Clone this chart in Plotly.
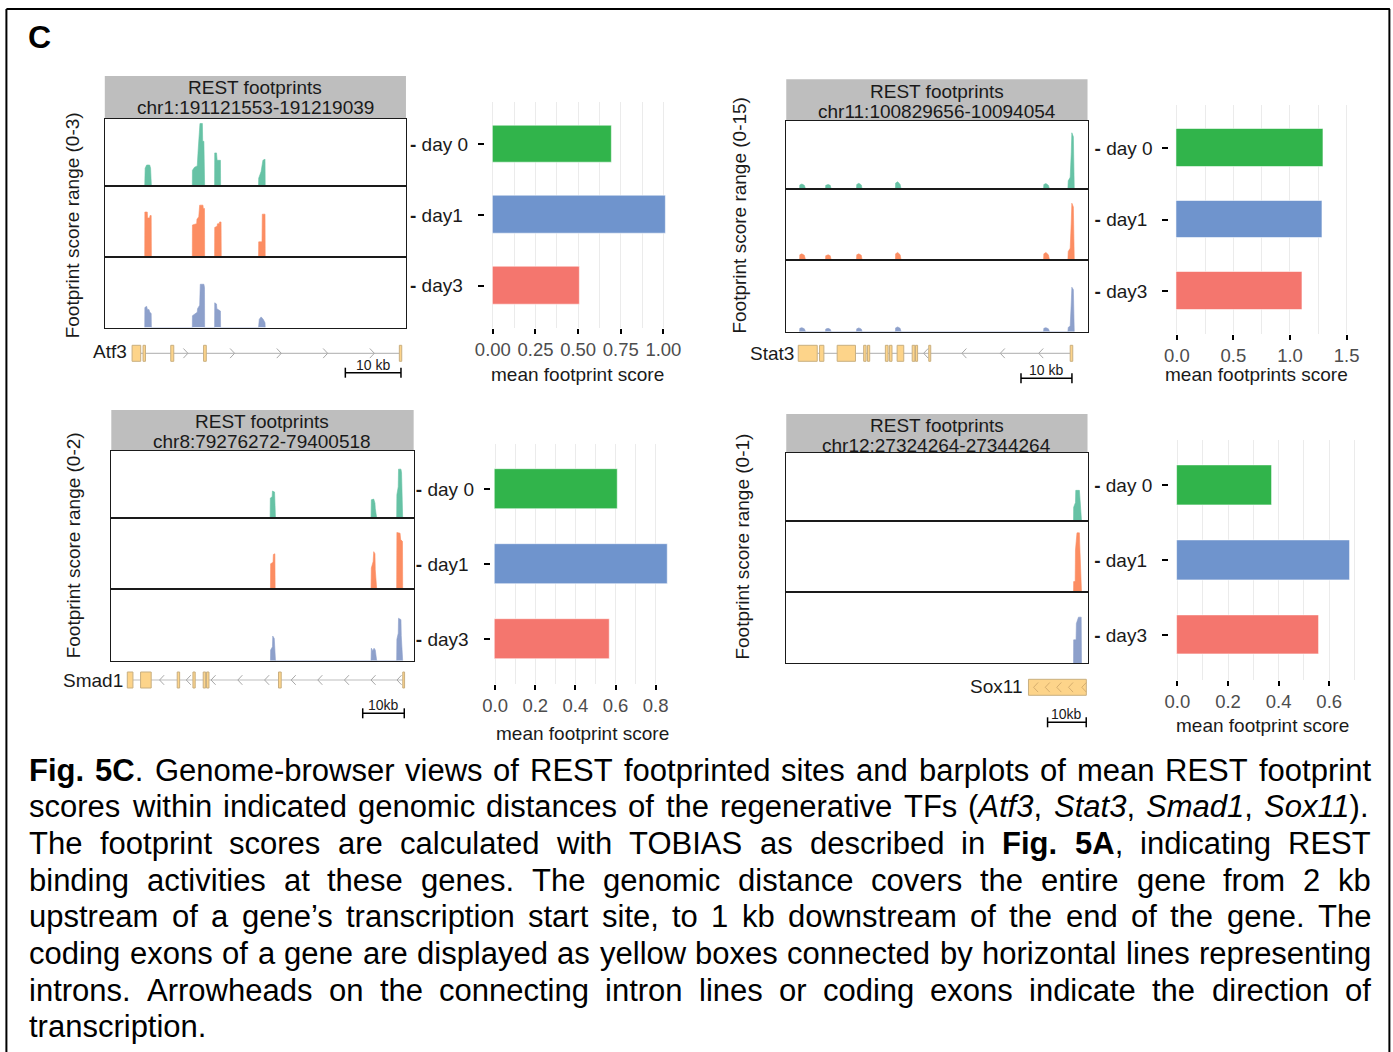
import re
import plotly.graph_objects as go

W, H = 1393, 1052
FONT = "Liberation Sans, Arial, Helvetica, sans-serif"

# ======================= DATA =======================
days = ["day 0", "day1", "day3"]
track_colors = ["#66C2A5", "#FC8D62", "#8DA0CB"]
bar_colors = ["#31B44B", "#6F94CD", "#F4766E"]

genes = ["Atf3", "Stat3", "Smad1", "Sox11"]
regions = ["chr1:191121553-191219039", "chr11:100829656-10094054",
           "chr8:79276272-79400518", "chr12:27324264-27344264"]
score_max = [3, 15, 2, 1]

# mean footprint scores (day 0, day1, day3)
atf3_mean = [0.70, 1.015, 0.51]
stat3_mean = [1.30, 1.29, 1.11]
smad1_mean = [0.613, 0.862, 0.573]
sox11_mean = [0.373, 0.682, 0.561]

atf3_ticks = [0, 0.25, 0.5, 0.75, 1.0]
atf3_ticklabels = ["0.00", "0.25", "0.50", "0.75", "1.00"]
stat3_ticks = [0, 0.5, 1.0, 1.5]
stat3_ticklabels = ["0.0", "0.5", "1.0", "1.5"]
smad1_ticks = [0, 0.2, 0.4, 0.6, 0.8]
smad1_ticklabels = ["0.0", "0.2", "0.4", "0.6", "0.8"]
sox11_ticks = [0, 0.2, 0.4, 0.6]
sox11_ticklabels = ["0.0", "0.2", "0.4", "0.6"]
bar_titles = ["mean footprint score", "mean footprints score",
              "mean footprint score", "mean footprint score"]

# footprint profiles: x = position (% of window), y = footprint score
atf3_day0_x = [13.26, 13.4, 13.9, 14.9, 15.2, 15.47,
               29.06, 29.1, 29.8, 30.7, 31.0, 31.5, 31.6, 32.4, 32.5, 32.9, 33.15,
               36.46, 36.5, 37.1, 37.3, 38.4, 38.45,
               51.05, 51.1, 51.9, 52.5, 53.2, 53.26]
atf3_day0_y = [0, 0.8, 0.94, 0.94, 0.8, 0,
               0, 0.7, 0.84, 0.9, 1.6, 2.8, 2.8, 2.8, 2.0, 2.0, 0,
               0, 1.48, 1.48, 1.15, 1.15, 0,
               0, 0.35, 0.65, 1.15, 1.2, 0]
atf3_day1_x = [13.26, 13.3, 14.1, 14.2, 14.9, 15.0, 15.4, 15.47,
               29.06, 29.1, 30.5, 30.6, 31.2, 31.5, 32.6, 32.7, 33.1, 33.15,
               36.46, 36.5, 37.3, 37.4, 38.0, 38.1, 38.6, 38.67,
               51.05, 51.1, 52.2, 52.3, 53.2, 53.26]
atf3_day1_y = [0, 1.9, 1.9, 1.65, 1.65, 1.75, 1.75, 0,
               0, 1.35, 1.41, 1.6, 1.7, 2.19, 2.19, 2.05, 2.05, 0,
               0, 1.25, 1.3, 1.4, 1.41, 1.48, 1.48, 0,
               0, 0.64, 0.64, 1.81, 1.81, 0]
atf3_day3_x = [13.26, 13.3, 13.9, 14.1, 14.7, 14.9, 15.4, 15.47,
               29.06, 29.1, 30.7, 30.8, 31.5, 31.7, 32.9, 33.1, 33.15,
               36.46, 36.5, 37.1, 37.2, 38.4, 38.45,
               51.05, 51.3, 51.9, 52.6, 53.2, 53.26]
atf3_day3_y = [0, 0.85, 0.9, 0.78, 0.76, 0.66, 0.6, 0,
               0, 0.5, 0.65, 0.8, 0.95, 1.84, 1.84, 1.7, 0,
               0, 1.05, 1.0, 0.8, 0.7, 0,
               0, 0.35, 0.45, 0.35, 0.2, 0]

stat3_x = [4.42, 4.5, 5.2, 6.0, 6.41,
           13.04, 13.1, 13.9, 14.6, 14.92,
           23.31, 23.4, 24.1, 24.9, 25.19,
           36.24, 36.3, 37.0, 37.8, 38.12,
           85.41, 85.5, 86.2, 87.0, 87.4,
           93.48, 93.6, 94.25, 94.6, 94.8, 95.3, 95.5, 95.6]
stat3_day0_y = [0, 0.9, 1.1, 0.8, 0, 0, 0.8, 1.0, 0.8, 0, 0, 1.0, 1.26, 0.9, 0,
                0, 1.3, 1.6, 1.0, 0, 0, 1.0, 1.2, 0.8, 0,
                0, 1.8, 2.6, 8.0, 12.4, 11.5, 5.0, 0]
stat3_day1_y = [0, 1.1, 1.3, 1.0, 0, 0, 0.9, 1.1, 0.9, 0, 0, 1.1, 1.3, 1.0, 0,
                0, 1.3, 1.6, 1.1, 0, 0, 1.3, 1.6, 1.1, 0,
                0, 1.8, 2.5, 8.0, 12.0, 11.2, 5.0, 0]
stat3_day3_y = [0, 0.7, 0.85, 0.6, 0, 0, 0.55, 0.7, 0.5, 0, 0, 0.6, 0.8, 0.55, 0,
                0, 0.8, 1.0, 0.7, 0, 0, 0.7, 0.85, 0.6, 0,
                0, 0.9, 1.2, 6.0, 9.3, 8.8, 4.0, 0]

smad1_day0_x = [52.53, 52.6, 53.2, 53.3, 54.0, 54.3,
                85.9, 86.0, 86.8, 87.2, 87.3, 87.78,
                94.38, 94.45, 94.9, 95.0, 95.8, 96.0, 96.37]
smad1_day0_y = [0, 0.6, 0.64, 0.81, 0.78, 0,
                0, 0.55, 0.57, 0.45, 0.3, 0,
                0, 0.7, 0.94, 1.46, 1.46, 1.35, 0]
smad1_day1_x = [52.64, 52.7, 53.5, 53.6, 54.1, 54.19,
                85.9, 86.0, 86.6, 86.8, 87.2, 87.3, 87.78,
                94.38, 94.45, 95.5, 95.7, 96.3, 96.37]
smad1_day1_y = [0, 0.72, 0.76, 0.98, 1.0, 0,
                0, 0.6, 0.78, 1.06, 1.0, 0.55, 0,
                0, 1.6, 1.58, 1.4, 1.35, 0]
smad1_day3_x = [52.64, 52.7, 53.3, 53.4, 53.9, 54.0, 54.3,
                85.9, 86.0, 86.5, 86.9, 87.3, 87.78,
                94.38, 94.45, 94.9, 95.0, 95.8, 95.9, 96.37]
smad1_day3_y = [0, 0.3, 0.39, 0.69, 0.62, 0.3, 0,
                0, 0.35, 0.28, 0.35, 0.3, 0,
                0, 0.6, 0.77, 1.19, 1.15, 0.7, 0]

sox11_day0_x = [95.36, 95.4, 96.0, 96.1, 97.3, 97.4, 98.0]
sox11_day0_y = [0, 0.2, 0.27, 0.45, 0.45, 0.38, 0]
sox11_day1_x = [95.36, 95.4, 95.9, 96.0, 96.5, 97.3, 97.4, 98.0]
sox11_day1_y = [0, 0.15, 0.15, 0.59, 0.83, 0.83, 0.68, 0]
sox11_day3_x = [95.36, 95.4, 96.2, 96.3, 97.0, 97.9, 98.0]
sox11_day3_y = [0, 0.33, 0.33, 0.56, 0.65, 0.65, 0]

# gene models: exons (start, end) and intron arrowheads, in % of window
atf3_exons = [(9.06, 11.93), (12.7, 13.5), (21.9, 22.9), (32.8, 33.7), (97.8, 98.6)]
atf3_arrows = [27.6, 43.1, 58.6, 74.0, 89.5]
stat3_exons = [(3.98, 10.28), (11.05, 12.49), (16.9, 22.98), (25.7, 26.5), (26.96, 27.7),
               (32.9, 33.8), (34.25, 35.1), (36.8, 39.0), (41.8, 42.7), (42.9, 43.6),
               (47.3, 47.96), (94.25, 95.1)]
stat3_arrows = [45.6, 58.3, 71.05, 83.8]
smad1_exons = [(5.29, 7.16), (9.69, 13.2), (21.8, 22.6), (27.0, 27.75), (30.4, 31.2),
               (31.5, 32.3), (55.3, 56.2), (96.4, 97.0)]
smad1_arrows = [15.97, 24.8, 33.0, 41.85, 50.7, 59.5, 68.3, 77.1, 85.9, 94.5]
sox11_exons = [(80.4, 99.6)]
sox11_arrows = [82.1, 85.97, 89.8, 93.7, 98.1]
strands = ["+", "-", "-", "-"]

caption_lines = [
    "<b>Fig.</b> <b>5C</b>. Genome-browser views of REST footprinted sites and barplots of mean REST footprint",
    "scores within indicated genomic distances of the regenerative TFs (<i>Atf3</i>, <i>Stat3</i>, <i>Smad1</i>, <i>Sox11</i>).",
    "The footprint scores are calculated with TOBIAS as described in <b>Fig.</b> <b>5A</b>, indicating REST",
    "binding activities at these genes. The genomic distance covers the entire gene from 2 kb",
    "upstream of a gene\u2019s transcription start site, to 1 kb downstream of the end of the gene. The",
    "coding exons of a gene are displayed as yellow boxes connected by horizontal lines representing",
    "introns. Arrowheads on the connecting intron lines or coding exons indicate the direction of",
    "transcription.",
]

# ======================= LAYOUT (pixels) =======================
# horizontal placement compensates for the page's body inset
X_OFF, X_SPAN = 8.6, 1373.5


def fx(p):
    return (p - X_OFF) / X_SPAN


def fy(p):
    return 1 - p / H


panels = [
    dict(gene="Atf3", region=regions[0], smax=score_max[0],
         prof=[(atf3_day0_x, atf3_day0_y), (atf3_day1_x, atf3_day1_y), (atf3_day3_x, atf3_day3_y)],
         tx=(103.5, 405), rows=[(119, 186), (186, 257), (257, 327.5)],
         head=(76, 118.5), head_y=(87.3, 107.3), ytitle=(72, 225),
         gene_y=353.3, label=(128, 351.5), exons=atf3_exons, arrows=atf3_arrows, strand=strands[0],
         scale=(344.3, 400, 372.7, "10 kb"),
         mean=atf3_mean, ticks=atf3_ticks, ticklabels=atf3_ticklabels, minor=0.125,
         zero=492, ppu=170.7, lo=-0.047, hi=1.07, bary=(101.7, 328), btitle=(577, 374.5), bt=bar_titles[0]),
    dict(gene="Stat3", region=regions[1], smax=score_max[1],
         prof=[(stat3_x, stat3_day0_y), (stat3_x, stat3_day1_y), (stat3_x, stat3_day3_y)],
         tx=(785.7, 1087.3), rows=[(121, 189), (189, 260), (260, 331.7)],
         head=(79.3, 120.5), head_y=(91.7, 111.7), ytitle=(738, 215),
         gene_y=353.3, label=(795, 353.3), exons=stat3_exons, arrows=stat3_arrows, strand=strands[1],
         scale=(1020.7, 1071.7, 378.3, "10 kb"),
         mean=stat3_mean, ticks=stat3_ticks, ticklabels=stat3_ticklabels, minor=0.25,
         zero=1176.7, ppu=113.3, lo=-0.065, hi=1.52, bary=(105, 334), btitle=(1256, 374.5), bt=bar_titles[1]),
    dict(gene="Smad1", region=regions[2], smax=score_max[2],
         prof=[(smad1_day0_x, smad1_day0_y), (smad1_day1_x, smad1_day1_y), (smad1_day3_x, smad1_day3_y)],
         tx=(110, 412.7), rows=[(451, 518.3), (518.3, 589.3), (589.3, 660.7)],
         head=(410, 451), head_y=(421.7, 441.7), ytitle=(72, 545),
         gene_y=680, label=(123.3, 680), exons=smad1_exons, arrows=smad1_arrows, strand=strands[2],
         scale=(361.7, 403.3, 713.3, "10kb"),
         mean=smad1_mean, ticks=smad1_ticks, ticklabels=smad1_ticklabels, minor=0.1,
         zero=494.3, ppu=200.8, lo=-0.022, hi=0.9, bary=(444.2, 684.2), btitle=(582, 733.3), bt=bar_titles[2]),
    dict(gene="Sox11", region=regions[3], smax=score_max[3],
         prof=[(sox11_day0_x, sox11_day0_y), (sox11_day1_x, sox11_day1_y), (sox11_day3_x, sox11_day3_y)],
         tx=(785.7, 1087.3), rows=[(453.3, 520.7), (520.7, 592.3), (592.3, 663.3)],
         head=(414, 453), head_y=(425, 445), ytitle=(741, 547),
         gene_y=687.3, label=(1023.3, 686.7), exons=sox11_exons, arrows=sox11_arrows, strand=strands[3],
         scale=(1047.3, 1086, 722.3, "10kb"),
         mean=sox11_mean, ticks=sox11_ticks, ticklabels=sox11_ticklabels, minor=0.1,
         zero=1177.3, ppu=253.3, lo=-0.033, hi=0.72, bary=(440.4, 679.9), btitle=(1262, 725), bt=bar_titles[3]),
]

fig = go.Figure()
layout = {}
annotations = []
shapes = []
counter = [0]


def new_axes(xdom, ydom, xopts, yopts):
    counter[0] += 1
    i = counter[0]
    sfx = "" if i == 1 else str(i)
    layout["xaxis" + sfx] = dict(domain=[fx(xdom[0]), fx(xdom[1])], anchor="y" + sfx, **xopts)
    layout["yaxis" + sfx] = dict(domain=[fy(ydom[1]), fy(ydom[0])], anchor="x" + sfx, **yopts)
    return "x" + sfx, "y" + sfx


def ann(x, y, text, size=19, color="#1A1A1A", xanchor="center", yanchor="middle", angle=0):
    annotations.append(dict(x=fx(x), y=fy(y), xref="paper", yref="paper", text=text,
                            showarrow=False, font=dict(family=FONT, size=size, color=color),
                            xanchor=xanchor, yanchor=yanchor, textangle=angle))


def pline(x0, y0, x1, y1, color="#000000", width=1.5):
    shapes.append(dict(type="line", xref="paper", yref="paper", x0=fx(x0), y0=fy(y0),
                       x1=fx(x1), y1=fy(y1), line=dict(color=color, width=width)))


frame_axis = dict(showticklabels=False, ticks="", showgrid=False, zeroline=False,
                  showline=True, mirror=True, linecolor="#1A1A1A", linewidth=1.3, fixedrange=True)
blank_axis = dict(showticklabels=False, ticks="", showgrid=False, zeroline=False,
                  showline=False, fixedrange=True)

EXON_H = 0.5
CHEV_H = 0.3
CHEV_W = 1.5

for p in panels:
    x0, x1 = p["tx"]
    # header strip
    shapes.append(dict(type="rect", xref="paper", yref="paper", x0=fx(x0), x1=fx(x1),
                       y0=fy(p["head"][1]), y1=fy(p["head"][0]), fillcolor="#BEBEBE",
                       line=dict(width=0), layer="below"))
    ann((x0 + x1) / 2, p["head_y"][0], "REST footprints")
    ann((x0 + x1) / 2, p["head_y"][1], p["region"])
    ann(p["ytitle"][0], p["ytitle"][1], "Footprint score range (0-%d)" % p["smax"], angle=-90)

    # footprint tracks
    for k, (px_, py_) in enumerate(p["prof"]):
        xr, yr = new_axes((x0, x1), p["rows"][k], dict(range=[0, 100], **frame_axis),
                          dict(range=[0, p["smax"]], **frame_axis))
        fig.add_trace(go.Scatter(x=px_, y=py_, mode="lines", fill="tozeroy",
                                 line=dict(color=track_colors[k], width=0.6),
                                 fillcolor=track_colors[k], xaxis=xr, yaxis=yr,
                                 hoverinfo="skip", showlegend=False))

    # gene model
    gy = p["gene_y"]
    xr, yr = new_axes((x0, x1), (gy - 16, gy + 16), dict(range=[0, 100], **blank_axis),
                      dict(range=[-1, 1], **blank_axis))
    ex = p["exons"]
    if len(ex) > 1:
        fig.add_trace(go.Scatter(x=[ex[0][1], ex[-1][0]], y=[0, 0], mode="lines",
                                 line=dict(color="#BDBDBD", width=1.2), xaxis=xr, yaxis=yr,
                                 hoverinfo="skip", showlegend=False))
    exx, exy = [], []
    for s, e in ex:
        exx += [s, e, e, s, s, None]
        exy += [-EXON_H, -EXON_H, EXON_H, EXON_H, -EXON_H, None]
    fig.add_trace(go.Scatter(x=exx, y=exy, mode="lines", fill="toself", fillcolor="#FDD48A",
                             line=dict(color="#C9AF80", width=1), xaxis=xr, yaxis=yr,
                             hoverinfo="skip", showlegend=False))
    cx, cy = [], []
    d = -CHEV_W if p["strand"] == "+" else CHEV_W
    for a in p["arrows"]:
        cx += [a + d, a, a + d, None]
        cy += [CHEV_H, 0, -CHEV_H, None]
    chev_col = "#D6AE6E" if len(ex) == 1 else "#A8A8A8"
    fig.add_trace(go.Scatter(x=cx, y=cy, mode="lines", line=dict(color=chev_col, width=1),
                             xaxis=xr, yaxis=yr, hoverinfo="skip", showlegend=False))
    ann(p["label"][0], p["label"][1], p["gene"], xanchor="right")

    # scale bar
    sx0, sx1, sy, stxt = p["scale"]
    pline(sx0, sy, sx1, sy, width=1.5)
    pline(sx0, sy - 5, sx0, sy + 5, width=1.5)
    pline(sx1, sy - 5, sx1, sy + 5, width=1.5)
    ann((sx0 + sx1) / 2, sy - 8, stxt, size=14)

    # bar chart
    z, s = p["zero"], p["ppu"]
    bxd = (z + p["lo"] * s, z + p["hi"] * s)
    xr, yr = new_axes(
        bxd, p["bary"],
        dict(range=[p["lo"], p["hi"]], tickvals=p["ticks"], ticktext=p["ticklabels"],
             ticks="outside", ticklen=5, tickwidth=2, tickcolor="#000000",
             tickfont=dict(family=FONT, size=18.5, color="#4D4D4D"),
             showgrid=True, gridcolor="#EBEBEB", gridwidth=1.3,
             minor=dict(dtick=p["minor"], tick0=0, showgrid=True, gridcolor="#EBEBEB",
                        gridwidth=1.3, ticks=""),
             zeroline=False, showline=False, fixedrange=True),
        dict(range=[-0.6, 2.6], tickvals=[2, 1, 0],
             ticktext=["<b>-</b> day 0", "<b>-</b> day1\u00a0", "<b>-</b> day3\u00a0"],
             ticks="outside", ticklen=6, tickwidth=2, tickcolor="#000000",
             tickfont=dict(family=FONT, size=19, color="#1A1A1A"), ticklabelstandoff=6,
             showgrid=False, zeroline=False, showline=False, fixedrange=True))
    fig.add_trace(go.Bar(x=p["mean"], y=[2, 1, 0], orientation="h", width=0.53,
                         marker=dict(color=bar_colors, line=dict(color="rgba(255,255,255,0.55)", width=1)),
                         xaxis=xr, yaxis=yr, hoverinfo="skip", showlegend=False))
    ann(p["btitle"][0], p["btitle"][1], p["bt"])

# frame and panel letter
pline(5, 9, 1390, 9, width=2)
pline(5, 9, 5, 1052, width=2)
pline(1389.5, 9, 1389.5, 1052, width=2)
ann(38.5, 37, "<b>C</b>", size=32, color="#000000")

# ---------------- caption (justified) ----------------
REG = {" ": 278, "(": 333, ")": 333, ",": 278, "-": 333, ".": 278, ":": 278, "\u2019": 222}
for ch in "0123456789":
    REG[ch] = 556
REG.update(dict(zip("abcdefghijklmnopqrstuvwxyz",
                    [556, 556, 500, 556, 556, 278, 556, 556, 222, 222, 500, 222, 833,
                     556, 556, 556, 556, 333, 500, 278, 556, 500, 722, 500, 500, 500])))
REG.update(dict(zip("ABCDEFGHIJKLMNOPQRSTUVWXYZ",
                    [667, 667, 722, 722, 667, 611, 778, 722, 278, 500, 667, 556, 833,
                     722, 778, 667, 778, 722, 667, 611, 722, 667, 944, 667, 667, 611])))
BOLD = dict(REG)
BOLD.update({"A": 722, "C": 722, "F": 611, "g": 611, "i": 278})

CAP_F = 31
CAP_L, CAP_R = 26, 1369
cap_y = [770, 806.5, 843, 880, 916.5, 953, 990, 1026.5]


def word_width(word):
    bold = False
    w = 0
    for part in re.split(r"(<[^>]+>)", word):
        if part.startswith("<"):
            if part == "<b>":
                bold = True
            elif part == "</b>":
                bold = False
            continue
        for ch in part:
            w += (BOLD if bold else REG).get(ch, 556)
    return w * CAP_F / 1000.0


for li, line in enumerate(caption_lines):
    words = line.split(" ")
    widths = [word_width(w) for w in words]
    if li < len(caption_lines) - 1 and len(words) > 1:
        gap = (CAP_R - CAP_L - sum(widths)) / (len(words) - 1)
    else:
        gap = 0.278 * CAP_F
    x = CAP_L
    for w, wd in zip(words, widths):
        ann(x, cap_y[li], w, size=CAP_F, color="#000000", xanchor="left")
        x += wd + gap

fig.update_layout(**layout)
fig.update_layout(width=W, height=H, autosize=False, margin=dict(l=0, r=0, t=0, b=0, pad=0),
                  paper_bgcolor="white", plot_bgcolor="white", showlegend=False,
                  bargap=0, annotations=annotations, shapes=shapes, hovermode=False,
                  font=dict(family=FONT, color="#1A1A1A"))

fig.write_html("out.html",
               config={"displayModeBar": False, "responsive": False},
               post_script="document.body.style.margin='0';document.body.style.overflow='hidden';")
